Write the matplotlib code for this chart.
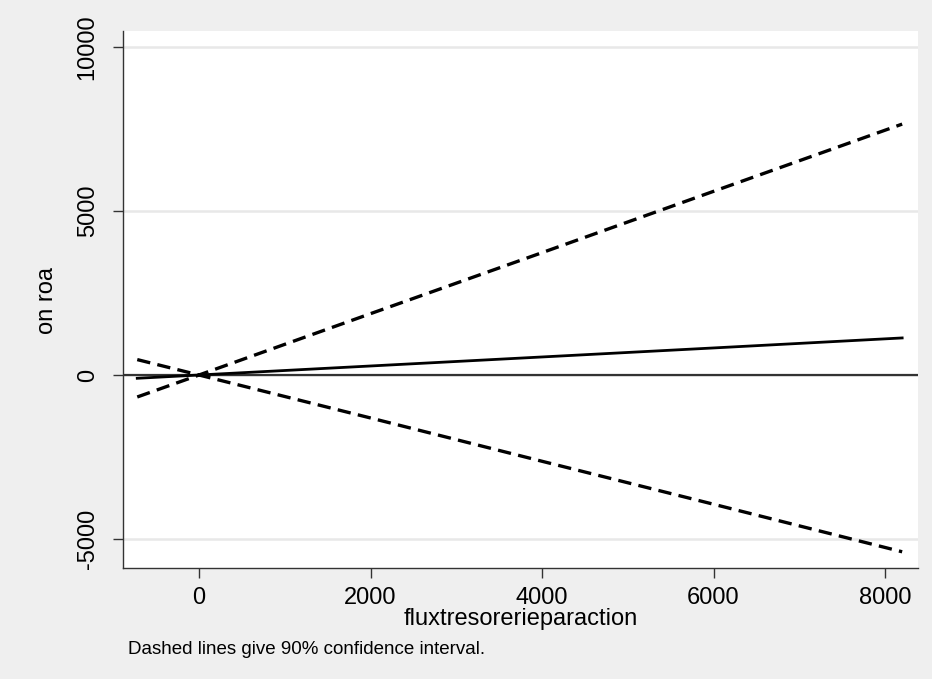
import matplotlib
matplotlib.use("Agg")
import matplotlib.pyplot as plt

# marginal effect of fluxtresorerieparaction on roa, with 90% CI
x_vals = [-720, 0, 2000, 4000, 6000, 8200]
effect = [-100, 0, 275, 550, 825, 1130]
upper_ci = [-670, 0, 1870, 3730, 5600, 7650]
lower_ci = [470, 0, -1310, -2630, -3940, -5390]

x_ticks = [0, 2000, 4000, 6000, 8000]
y_ticks = [-5000, 0, 5000, 10000]

bg = '#efefef'
plt.rcParams['font.family'] = ['Liberation Sans', 'DejaVu Sans']

fig = plt.figure(figsize=(9.32, 6.79), dpi=100, facecolor=bg)
ax = fig.add_axes([0.132, 0.1635, 0.853, 0.7908])

ax.set_xlim(-886, 8385)
ax.set_ylim(-5884, 10488)

for y in y_ticks:
    ax.axhline(y, color='#e8e8e8', lw=1.8, zorder=0)
ax.axhline(0, color='#333333', lw=1.6, zorder=1)

ax.plot(x_vals, effect, color='black', lw=2.0, zorder=3)
ax.plot(x_vals, upper_ci, color='black', lw=2.4, dashes=(4, 2.2), zorder=3)
ax.plot(x_vals, lower_ci, color='black', lw=2.4, dashes=(4, 2.2), zorder=3)

ax.set_xticks(x_ticks)
ax.set_yticks(y_ticks)
ax.set_xticklabels([str(t) for t in x_ticks])
ax.set_yticklabels([str(t) for t in y_ticks], rotation=90, va='center')
ax.tick_params(axis='both', direction='out', length=7, width=1,
               color='#333333', labelsize=17)
ax.tick_params(axis='x', pad=7)
ax.tick_params(axis='y', pad=10.5)

for side in ['top', 'right']:
    ax.spines[side].set_visible(False)
for side in ['left', 'bottom']:
    ax.spines[side].set_color('#333333')
    ax.spines[side].set_linewidth(1)

fig.text(520.5 / 932, 1 - 619 / 679, 'fluxtresorerieparaction',
         ha='center', va='center', fontsize=17)
fig.text(47 / 932, 1 - 300 / 679, 'on roa', rotation=90,
         ha='center', va='center', fontsize=17)
fig.text(128 / 932, 1 - 650 / 679, 'Dashed lines give 90% confidence interval.',
         ha='left', va='center', fontsize=13.5)

fig.savefig('out.png', dpi=100, facecolor=bg)
